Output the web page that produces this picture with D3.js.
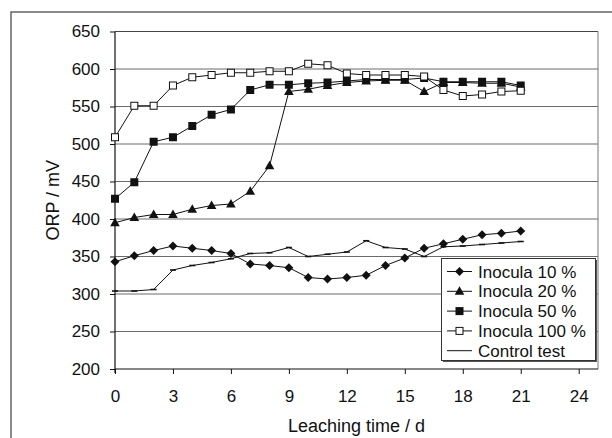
<html>
<head>
<script src="https://cdn.jsdelivr.net/npm/d3@7"></script>
<style>
  body { margin: 0; background: #fff; }
  text { font-family: "Liberation Sans", Arial, sans-serif; fill: #111; }
</style>
</head>
<body>
<svg id="chart" width="612" height="438"></svg>
<script>
const days = d3.range(0, 22);
const inocula10  = [343, 351, 358, 364, 361, 358, 354, 340, 338, 335, 322, 320, 322, 325, 338, 348, 361, 367, 373, 379, 381, 384];
const inocula20  = [395, 402, 406, 406, 413, 418, 420, 437, 471, 570, 573, 578, 582, 584, 585, 585, 570, 582, 582, 581, 581, 576];
const inocula50  = [427, 449, 503, 509, 524, 539, 546, 572, 579, 579, 581, 582, 584, 586, 586, 586, 588, 583, 583, 583, 583, 578];
const inocula100 = [509, 551, 551, 578, 589, 592, 595, 595, 597, 597, 607, 605, 594, 592, 592, 592, 590, 572, 564, 566, 570, 571];
const control    = [304, 304, 306, 332, 338, 342, 347, 354, 355, 362, 350, 353, 356, 371, 362, 360, 350, 363, 364, 366, 368, 370];
const xTicks = [0, 3, 6, 9, 12, 15, 18, 21, 24];
const yTicks = [200, 250, 300, 350, 400, 450, 500, 550, 600, 650];

const series = [
  { name: "Inocula 10 %", values: inocula10, marker: "diamond" },
  { name: "Inocula 20 %", values: inocula20, marker: "triangle" },
  { name: "Inocula 50 %", values: inocula50, marker: "square" },
  { name: "Inocula 100 %", values: inocula100, marker: "open" },
  { name: "Control test", values: control, marker: "dash" }
];

const svg = d3.select("#chart");
const pLeft = 115, pRight = 598, pTop = 31.5, pBottom = 369;

const x = d3.scaleLinear().domain([0, 25]).range([pLeft, pRight]);
const y = d3.scaleLinear().domain([200, 650]).range([pBottom, pTop]);

// outer frame
svg.append("path")
  .attr("d", "M11,438 V12 H612")
  .attr("fill", "none").attr("stroke", "#666").attr("stroke-width", 1.5);

// gridlines
svg.append("g").selectAll("line")
  .data(yTicks.filter(v => v > 200))
  .join("line")
  .attr("x1", pLeft).attr("x2", pRight)
  .attr("y1", d => y(d)).attr("y2", d => y(d))
  .attr("stroke", d => d == 650 ? "#444" : "#6a6a6a").attr("stroke-width", 1);

// right border
svg.append("line")
  .attr("x1", pRight).attr("x2", pRight).attr("y1", pTop).attr("y2", pBottom)
  .attr("stroke", "#777");

// axes
const yAxis = svg.append("g").attr("transform", `translate(${pLeft},0)`)
  .call(d3.axisLeft(y).tickValues(yTicks).tickSize(5).tickPadding(10));
const xAxis = svg.append("g").attr("transform", `translate(0,${pBottom})`)
  .call(d3.axisBottom(x).tickValues(xTicks).tickSize(5).tickPadding(16));
[yAxis, xAxis].forEach(a => {
  a.select(".domain").attr("stroke", "#111").attr("stroke-width", 1.2);
  a.selectAll(".tick line").attr("stroke", "#111");
  a.selectAll("text").attr("font-size", 17).attr("font-family", "Liberation Sans, Arial, sans-serif").attr("fill", "#111");
});
yAxis.select(".domain").attr("d", `M0,${pTop}V${pBottom + 4}`);
xAxis.select(".domain").attr("d", `M${pLeft},0H${pRight}`);

svg.append("text")
  .attr("x", (pLeft + pRight) / 2).attr("y", 432)
  .attr("text-anchor", "middle").attr("font-size", 18)
  .text("Leaching time / d");
svg.append("text")
  .attr("transform", `translate(59,${(pTop + pBottom) / 2}) rotate(-90)`)
  .attr("text-anchor", "middle").attr("font-size", 18)
  .text("ORP / mV");

function drawMarker(g, type) {
  if (type == "diamond") {
    g.append("path").attr("d", "M0,-4.5L4.5,0L0,4.5L-4.5,0Z").attr("fill", "#111");
  } else if (type == "triangle") {
    g.append("path").attr("d", "M0,-5L4.8,3.5L-4.8,3.5Z").attr("fill", "#111");
  } else if (type == "square") {
    g.append("rect").attr("x", -4).attr("y", -4).attr("width", 8).attr("height", 8).attr("fill", "#111");
  } else if (type == "open") {
    g.append("rect").attr("x", -3.5).attr("y", -3.5).attr("width", 7).attr("height", 7)
      .attr("fill", "#fff").attr("stroke", "#111").attr("stroke-width", 1);
  } else if (type == "dash") {
    g.append("line").attr("x1", -3).attr("x2", 3).attr("stroke", "#111").attr("stroke-width", 1.6);
  }
}

const line = d3.line().x((d, i) => x(days[i])).y(d => y(d));

series.forEach(s => {
  svg.append("path")
    .datum(s.values)
    .attr("d", line)
    .attr("fill", "none").attr("stroke", "#111").attr("stroke-width", 1);
  s.values.forEach((v, i) => {
    const g = svg.append("g").attr("transform", `translate(${x(days[i])},${y(v)})`);
    drawMarker(g, s.marker);
  });
});

// legend
const lg = svg.append("g");
lg.append("rect").attr("x", 443).attr("y", 260).attr("width", 154).attr("height", 102)
  .attr("fill", "#555");
lg.append("rect").attr("x", 441.5).attr("y", 258.5).attr("width", 154).attr("height", 102)
  .attr("fill", "#fff").attr("stroke", "#333").attr("stroke-width", 1);
series.forEach((s, i) => {
  const cy = 271.5 + i * 19.8;
  lg.append("line").attr("x1", 447).attr("x2", 472).attr("y1", cy).attr("y2", cy)
    .attr("stroke", "#111").attr("stroke-width", 1);
  if (s.marker != "dash") {
    const g = lg.append("g").attr("transform", `translate(459.5,${cy})`);
    drawMarker(g, s.marker);
  }
  lg.append("text").attr("x", 478).attr("y", cy + 6).attr("font-size", 17).text(s.name);
});
</script>
</body>
</html>
